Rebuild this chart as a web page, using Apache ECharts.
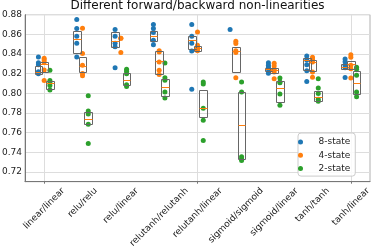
<!DOCTYPE html>
<html>
<head>
<meta charset="utf-8">
<script src="https://cdn.jsdelivr.net/npm/echarts@6/dist/echarts.min.js"></script>
<style>html,body{margin:0;padding:0;background:#fff}#c{width:374px;height:250px}</style>
</head>
<body>
<div id="c"></div>
<script>
const categories = ['linear/linear','relu/relu','relu/linear','relutanh/relutanh','relutanh/linear','sigmoid/sigmoid','sigmoid/linear','tanh/tanh','tanh/linear'];
const seriesNames = ['8-state','4-state','2-state'];
const yTicks = [0.72,0.74,0.76,0.78,0.80,0.82,0.84,0.86,0.88];

// individual runs per category
const pts8 = [
  [0.837,0.831,0.829,0.822,0.820],
  [0.875,0.866,0.858,0.851,0.837],
  [0.865,0.858,0.851,0.8475,0.826],
  [0.870,0.866,0.862,0.854,0.8495],
  [0.870,0.858,0.851,0.843,0.804],
  [0.865],
  [0.831,0.8285,0.8265,0.8245,0.8205],
  [0.838,0.834,0.829,0.823,0.812],
  [0.835,0.832,0.8285,0.826,0.816]
];
const pts4 = [
  [0.8356,0.834,0.8315,0.8237,0.8129],
  [0.8663,0.8405,0.8285,0.8202,0.8178],
  [0.856,0.856,0.8414],
  [0.8434,0.842,0.8319,0.8234,0.819],
  [0.8624,0.8488,0.8471,0.8454,0.8434],
  [0.8529,0.8508,0.8434,0.8414,0.8159],
  [0.8305,0.8278,0.8244,0.8217,0.8149],
  [0.8366,0.8346,0.8319,0.8217,0.8163],
  [0.8393,0.8366,0.8285,0.8251,0.8156]
];
const pts2 = [
  [0.8234,0.8129,0.8108,0.808,0.8034],
  [0.7976,0.782,0.779,0.7685,0.7488],
  [0.8244,0.8224,0.82,0.8088,0.8068],
  [0.8308,0.8159,0.8132,0.8014,0.7953],
  [0.8115,0.8095,0.7847,0.7725,0.7519],
  [0.8115,0.8014,0.7353,0.7332,0.7315],
  [0.8156,0.8115,0.8108,0.7993,0.7878],
  [0.8149,0.8054,0.7997,0.7939,0.7919],
  [0.8264,0.8244,0.8183,0.8014,0.7966]
];
// boxes: [q1, median, q3]
const box8 = [
  [0.8193,0.822,0.8275],[0.8407,0.855,0.863],[0.8475,0.8536,0.8624],[0.8536,0.8583,0.8637],
  [0.8447,0.8542,0.8583],null,[0.8227,0.8244,0.8261],[0.8241,0.8336,0.8363],[0.8244,0.827,0.8302]
];
const box4 = [
  [0.822,0.830,0.8323],[0.8217,0.828,0.837],null,[0.8193,0.8325,0.8427],
  [0.8427,0.8461,0.8481],[0.8217,0.843,0.8475],[0.821,0.8237,0.8258],[0.8231,0.832,0.8339],[0.8251,0.830,0.8332]
];
const box2 = [
  [0.804,0.810,0.8129],[0.7685,0.7734,0.781],[0.8088,0.8132,0.8203],[0.797,0.8064,0.8149],
  [0.7756,0.7847,0.8034],[0.7332,0.7675,0.801],[0.7912,0.8051,0.8122],[0.7925,0.7959,0.8027],[0.7993,0.8102,0.8224]
];

const FONT = '"DejaVu Sans", sans-serif';
const Y_MIN = 0.71, Y_MAX = 0.88;
const colors = ['#1f77b4','#ff7f0e','#2ca02c'];
const offsets = [-0.15, 0, 0.15];
const BOX_W = 0.2;
const LABEL_ROT = Math.PI / 4;
const allPts = [pts8, pts4, pts2];
const allBox = [box8, box4, box2];

const ctx = document.createElement('canvas').getContext('2d');
ctx.font = '9px ' + FONT;
const labelW = categories.map(c => ctx.measureText(c).width);

const scatterSeries = seriesNames.map((name, s) => {
  const data = [];
  allPts[s].forEach((vals, i) => vals.forEach(v => data.push([i + offsets[s], v])));
  return {
    name, type: 'scatter', xAxisIndex: 1, yAxisIndex: 0,
    symbol: 'circle', symbolSize: 5, data,
    itemStyle: {color: colors[s], opacity: 1}, z: 2, silent: true
  };
});

const boxData = [];
allBox.forEach((arr, s) => arr.forEach((b, i) => {
  if (b) boxData.push([i + offsets[s], b[0], b[1], b[2]]);
}));

const boxSeries = {
  type: 'custom', xAxisIndex: 1, yAxisIndex: 0, z: 3, silent: true,
  data: boxData,
  encode: {x: 0, y: [1, 2, 3]},
  renderItem: function (params, api) {
    const x = api.value(0);
    const top = api.coord([x, api.value(3)]);
    const bot = api.coord([x, api.value(1)]);
    const med = api.coord([x, api.value(2)]);
    const w = api.size([BOX_W, 0])[0];
    const x0 = Math.round(top[0] - w / 2) + 0.5, x1 = Math.round(top[0] + w / 2) + 0.5;
    const y0 = Math.round(top[1]) + 0.5, y1 = Math.round(bot[1]) + 0.5;
    const ym = Math.round(med[1]) + 0.5;
    return {type: 'group', children: [
      {type: 'rect', shape: {x: x0, y: y0, width: x1 - x0, height: Math.max(0, y1 - y0)},
       style: {fill: 'none', stroke: '#666', lineWidth: 1}},
      {type: 'line', shape: {x1: x0, y1: ym, x2: x1, y2: ym},
       style: {stroke: '#ff7f0e', lineWidth: 1}}
    ]};
  }
};

// rotated category labels, centred under each tick (matplotlib-like)
const labelSeries = {
  type: 'custom', xAxisIndex: 1, yAxisIndex: 0, z: 4, silent: true, clip: false,
  data: categories.map((c, i) => [i]),
  encode: {x: 0},
  renderItem: function (params, api) {
    const i = api.value(0);
    const p = api.coord([i, Y_MIN]);
    const w = labelW[i], h = 10.5;
    const d = 0.3536 * (w + h);
    return {type: 'text', x: p[0], y: p[1] + 4 + d, rotation: LABEL_ROT,
      style: {text: categories[i], align: 'center', verticalAlign: 'middle',
              font: '9px ' + FONT, fill: '#222'}};
  }
};

const chart = echarts.init(document.getElementById('c'), null, {renderer: 'canvas'});
chart.setOption({
  animation: false,
  backgroundColor: '#fff',
  title: {
    text: 'Different forward/backward non-linearities',
    left: 197.5, top: 0, textAlign: 'center', padding: 0,
    textStyle: {fontFamily: FONT, fontSize: 12, fontWeight: 'normal', color: '#111'}
  },
  legend: {
    data: seriesNames, orient: 'vertical', left: 298, top: 133,
    itemWidth: 26, itemHeight: 5, itemGap: 2.3,
    padding: [3.5, 5, 2, 0],
    backgroundColor: 'rgba(255,255,255,0.85)', borderColor: '#cccccc', borderWidth: 1, borderRadius: 3,
    textStyle: {fontFamily: FONT, fontSize: 9, color: '#222', lineHeight: 11},
    selectedMode: false
  },
  grid: {left: 25, right: 4, top: 14.7, bottom: 68.3, show: true, borderColor: '#b0b0b0', borderWidth: 1, outerBoundsMode: 'none', containLabel: false},
  xAxis: [
    {
      type: 'category', data: categories, boundaryGap: true,
      axisLine: {show: true, onZero: false, lineStyle: {color: '#777', width: 1}},
      axisTick: {show: true, alignWithLabel: true, length: 2, lineStyle: {color: '#777'}},
      splitLine: {show: true, alignWithLabel: true, lineStyle: {color: '#dddddd', width: 1}},
      axisLabel: {show: false}
    },
    {type: 'value', min: -0.5, max: 8.5, show: false}
  ],
  yAxis: {
    type: 'value', min: Y_MIN, max: Y_MAX, splitNumber: 8, minInterval: 0.02, maxInterval: 0.02,
    axisLine: {show: true, onZero: false, lineStyle: {color: '#777', width: 1}},
    axisTick: {show: false},
    splitLine: {show: true, lineStyle: {color: '#dddddd', width: 1}},
    axisLabel: {
      margin: 3, fontFamily: FONT, fontSize: 9, color: '#222',
      formatter: v => yTicks.some(t => Math.abs(t - v) < 1e-6) ? v.toFixed(2) : ''
    }
  },
  series: [...scatterSeries, boxSeries, labelSeries]
});
</script>
</body>
</html>
